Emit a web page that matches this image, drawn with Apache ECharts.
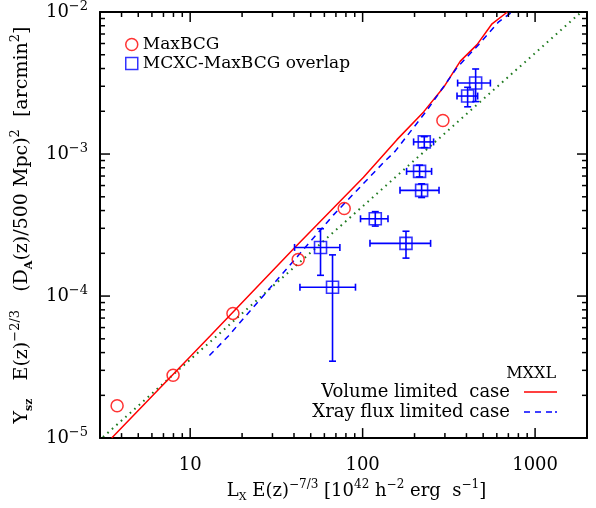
<!DOCTYPE html>
<html>
<head>
<meta charset="utf-8">
<script src="https://cdn.jsdelivr.net/npm/echarts@6/dist/echarts.min.js"></script>
<style>html,body{margin:0;padding:0;background:#fff}#c{width:596px;height:508px}</style>
</head>
<body>
<div id="c"></div>
<script>
// ---- data ----
const xMajor = [10, 100, 1000];
const xMinor = [3, 4, 5, 6, 7, 8, 9, 20, 30, 40, 50, 60, 70, 80, 90, 200, 300, 400, 500, 600, 700, 800, 900];
const yMajor = [1e-5, 1e-4, 1e-3, 1e-2];
const yMinor = [2e-5, 3e-5, 4e-5, 5e-5, 6e-5, 7e-5, 8e-5, 9e-5, 2e-4, 3e-4, 4e-4, 5e-4, 6e-4, 7e-4, 8e-4, 9e-4, 2e-3, 3e-3, 4e-3, 5e-3, 6e-3, 7e-3, 8e-3, 9e-3];

const maxbcgLx = [3.77, 7.96, 17.7, 42.3, 78.2, 292];
const maxbcgY = [1.69e-5, 2.77e-5, 7.55e-5, 1.81e-4, 4.14e-4, 1.72e-3];

const mcxcLx = [57.0, 66.9, 118.4, 178.4, 227.8, 213.9, 219.8, 452.2, 406.3];
const mcxcLxLo = [40.3, 43.3, 97.2, 110.3, 197.5, 179.8, 164.7, 355.5, 352.6];
const mcxcLxHi = [73.8, 90.9, 140.3, 247.8, 257.9, 251.1, 277.3, 550.5, 464.5];
const mcxcY = [2.20e-4, 1.155e-4, 3.50e-4, 2.35e-4, 1.217e-3, 7.55e-4, 5.55e-4, 3.16e-3, 2.56e-3];
const mcxcYLo = [1.40e-4, 3.48e-5, 3.11e-4, 1.85e-4, 1.11e-3, 6.90e-4, 4.94e-4, 2.34e-3, 2.15e-3];
const mcxcYHi = [2.98e-4, 1.95e-4, 3.93e-4, 2.86e-4, 1.325e-3, 8.35e-4, 6.17e-4, 3.97e-3, 2.95e-3];

const volLx = [3.508, 13.05, 40.3, 101.2, 158.2, 225.7, 294.9, 368.6, 460.8, 563.0, 690.8];
const volY = [1.0e-5, 5.24e-5, 2.19e-4, 6.86e-4, 1.263e-3, 1.98e-3, 2.95e-3, 4.51e-3, 5.89e-3, 8.26e-3, 1.0e-2];

const xrayLx = [12.93, 16.66, 67.8, 132.2, 154.6, 236.2, 352.6, 470.7, 615, 735.4];
const xrayY = [3.81e-5, 5.24e-5, 3.73e-4, 8.71e-4, 1.048e-3, 2.035e-3, 4.06e-3, 5.89e-3, 8.53e-3, 1.0e-2];

const fitLx = [3.12, 1807];
const fitY = [1.016e-5, 9.73e-3];

// ---- chart ----
const FONT = 'DejaVu Serif';
const X_MIN = 3, X_MAX = 2000, Y_MIN = 1e-5, Y_MAX = 1e-2;
const X_MID = 100, Y_MID = 1e-4;
const MAJOR_LEN = 10, MINOR_LEN = 5, TICK_W = 1.5;
const zip = (a, b) => a.map((v, i) => [v, b[i]]);

const chart = echarts.init(document.getElementById('c'), null, {renderer: 'canvas'});

const lineStyleAx = {color: '#000', width: 2};

const xMain = {
  type: 'log', logBase: 10, min: X_MIN, max: X_MAX, position: 'bottom',
  axisLine: {show: true, onZero: false, lineStyle: lineStyleAx},
  axisTick: {show: false}, splitLine: {show: false}, minorTick: {show: false},
  axisLabel: {
    show: true, customValues: xMajor, margin: 18,
    fontFamily: FONT, fontSize: 18, color: '#000',
    formatter: v => String(Math.round(v))
  },
  name: '{t|L}{sub|X}{t| E(z)}{sup|−7/3}{t| [10}{sup|42}{t| h}{sup|−2}{t| erg  s}{sup|−1}{t|]}',
  nameLocation: 'middle', nameGap: 36,
  nameTextStyle: {
    color: '#000', fontFamily: FONT, padding: [0, 0, 0, 26],
    rich: {
      t: {fontFamily: FONT, fontSize: 18, lineHeight: 24, color: '#000'},
      sup: {fontFamily: FONT, fontSize: 12, lineHeight: 12, verticalAlign: 'top', color: '#000'},
      sub: {fontFamily: FONT, fontSize: 11, lineHeight: 8, verticalAlign: 'bottom', color: '#000'}
    }
  }
};
const xTop = {
  type: 'log', logBase: 10, min: X_MIN, max: X_MAX, position: 'top',
  axisLine: {show: true, onZero: false, lineStyle: lineStyleAx},
  axisTick: {show: false}, axisLabel: {show: false}, splitLine: {show: false}
};

const yMain = {
  type: 'log', logBase: 10, min: Y_MIN, max: Y_MAX, position: 'left',
  axisLine: {show: true, onZero: false, lineStyle: lineStyleAx},
  axisTick: {show: false}, splitLine: {show: false}, minorTick: {show: false},
  axisLabel: {
    show: true, customValues: yMajor, margin: 12, color: '#000',
    formatter: v => '{b|10}{e|−' + Math.round(-Math.log10(v)) + '}',
    rich: {
      b: {fontFamily: FONT, fontSize: 18, lineHeight: 24, color: '#000'},
      e: {fontFamily: FONT, fontSize: 13, lineHeight: 10, verticalAlign: 'top', color: '#000'}
    }
  },
  name: '{t|Y}{sub|sz}{t|   E(z)}{sup|−2/3}{t|   (D}{sub|A}{t|(z)/500 Mpc)}{sup|2}{t|  [arcmin}{sup|2}{t|]}',
  nameLocation: 'middle', nameRotate: 90, nameGap: 51,
  nameTextStyle: {
    color: '#000', fontFamily: FONT,
    rich: {
      t: {fontFamily: FONT, fontSize: 19, lineHeight: 26, color: '#000'},
      sup: {fontFamily: FONT, fontSize: 13, lineHeight: 12, verticalAlign: 'top', color: '#000'},
      sub: {fontFamily: FONT, fontSize: 11, fontWeight: 'bold', lineHeight: 8, verticalAlign: 'bottom', color: '#000'}
    }
  }
};
const yRight = {
  type: 'log', logBase: 10, min: Y_MIN, max: Y_MAX, position: 'right',
  axisLine: {show: true, onZero: false, lineStyle: lineStyleAx},
  axisTick: {show: false}, axisLabel: {show: false}, splitLine: {show: false}
};

const errData = mcxcLx.map((v, i) => [v, mcxcY[i], mcxcLxLo[i], mcxcLxHi[i], mcxcYLo[i], mcxcYHi[i]]);

// tick marks: tick value placed through the axis scale (interior anchor),
// drawn inward from the grid frame; the frame comes from the coordinate system rect
const tickData = xMajor.map(v => [v, Y_MID, MAJOR_LEN, 0, 0, 0])
  .concat(xMinor.map(v => [v, Y_MID, MINOR_LEN, 0, 0, 0]))
  .concat(yMajor.map(v => [X_MID, v, MAJOR_LEN, 1, 0, 0]))
  .concat(yMinor.map(v => [X_MID, v, MINOR_LEN, 1, 0, 0]));

const option = {
  animation: false,
  backgroundColor: '#fff',
  grid: {left: 100, right: 9, top: 10, bottom: 64, containLabel: false},
  title: {
    text: 'MXXL', right: 35, top: 361,
    textStyle: {fontFamily: FONT, fontSize: 16, fontWeight: 'normal', color: '#000'}
  },
  legend: [
    {
      orient: 'vertical', left: 120, top: 30, itemGap: 0, itemWidth: 12, itemHeight: 12,
      selectedMode: false,
      textStyle: {fontFamily: FONT, fontSize: 17, color: '#000', lineHeight: 19},
      data: [
        {name: 'MaxBCG', icon: 'circle', itemStyle: {color: 'rgba(0,0,0,0)', borderColor: '#ff0000', borderWidth: 1.5}},
        {name: 'MCXC-MaxBCG overlap', icon: 'rect', itemStyle: {color: 'rgba(0,0,0,0)', borderColor: '#0000ff', borderWidth: 1.5}}
      ]
    },
    {
      orient: 'vertical', right: 34, top: 377, align: 'right', itemWidth: 33, itemHeight: 1.5,
      selectedMode: false,
      textStyle: {fontFamily: FONT, fontSize: 18, color: '#000', lineHeight: 20, padding: [0, 9, 0, 0]},
      data: [{name: 'Volume limited  case', icon: 'path://M0,0h33v1.5h-33z', itemStyle: {color: '#ff0000', borderWidth: 0}}]
    },
    {
      orient: 'vertical', right: 34, top: 397, align: 'right', itemWidth: 33, itemHeight: 1.5,
      selectedMode: false,
      textStyle: {fontFamily: FONT, fontSize: 18, color: '#000', lineHeight: 20, padding: [0, 9, 0, 0]},
      data: [{name: 'Xray flux limited case', icon: 'path://M0,0h6v1.5h-6z M11,0h6v1.5h-6z M22,0h6v1.5h-6z M31,0h2v1.5h-2z', itemStyle: {color: '#0000ff', borderWidth: 0}}]
    }
  ],
  xAxis: [xMain, xTop],
  yAxis: [yMain, yRight],
  series: [
    {
      name: 'Fit', type: 'line', data: zip(fitLx, fitY), symbol: 'none', clip: true,
      lineStyle: {color: '#1f7a1f', width: 2, type: [1.6, 4.4]}, z: 2
    },
    {
      name: 'Volume limited  case', type: 'line', data: zip(volLx, volY), symbol: 'none', clip: true,
      lineStyle: {color: '#ff0000', width: 1.5, type: 'solid'}, itemStyle: {color: '#ff0000'}, z: 3
    },
    {
      name: 'Xray flux limited case', type: 'line', data: zip(xrayLx, xrayY), symbol: 'none', clip: true,
      lineStyle: {color: '#0000ff', width: 1.5, type: [6, 5]}, itemStyle: {color: '#0000ff'}, z: 3
    },
    {
      name: 'errbars', type: 'custom', data: errData, clip: true, z: 4,
      encode: {x: 0, y: 1},
      renderItem: function (params, api) {
        const x = api.value(0), y = api.value(1);
        const c = api.coord([x, y]);
        const l = api.coord([api.value(2), y]);
        const r = api.coord([api.value(3), y]);
        const b = api.coord([x, api.value(4)]);
        const t = api.coord([x, api.value(5)]);
        const cap = 3.5;
        const st = {stroke: '#0000ff', lineWidth: 1.6};
        const mk = (x1, y1, x2, y2) => ({type: 'line', shape: {x1, y1, x2, y2}, style: st});
        return {type: 'group', children: [
          mk(l[0], c[1], r[0], c[1]),
          mk(c[0], b[1], c[0], t[1]),
          mk(l[0], c[1] - cap, l[0], c[1] + cap),
          mk(r[0], c[1] - cap, r[0], c[1] + cap),
          mk(c[0] - cap, b[1], c[0] + cap, b[1]),
          mk(c[0] - cap, t[1], c[0] + cap, t[1])
        ]};
      }
    },
    {
      name: 'MCXC-MaxBCG overlap', type: 'scatter', data: zip(mcxcLx, mcxcY), symbol: 'rect', symbolSize: 12,
      itemStyle: {color: 'rgba(0,0,0,0)', borderColor: '#0000ff', borderWidth: 1.6}, z: 5
    },
    {
      name: 'MaxBCG', type: 'scatter', data: zip(maxbcgLx, maxbcgY), symbol: 'circle', symbolSize: 12,
      itemStyle: {color: 'rgba(0,0,0,0)', borderColor: '#ff0000', borderWidth: 1.5}, z: 5
    },
    {
      name: 'frameTicks', type: 'custom', data: tickData, clip: true, z: 4,
      encode: {x: 0, y: 1},
      renderItem: function (params, api) {
        const cs = params.coordSys;
        const len = api.value(2);
        const kind = api.value(3);
        const p = api.coord([api.value(0), api.value(1)]);
        const st = {stroke: '#000000', lineWidth: TICK_W};
        const mk = (x1, y1, x2, y2) => ({type: 'line', shape: {x1, y1, x2, y2}, style: st});
        const top = cs.y, bottom = cs.y + cs.height, left = cs.x, right = cs.x + cs.width;
        if (kind < 0.5) {
          return {type: 'group', children: [
            mk(p[0], bottom, p[0], bottom - len),
            mk(p[0], top, p[0], top + len)
          ]};
        }
        return {type: 'group', children: [
          mk(left, p[1], left + len, p[1]),
          mk(right, p[1], right - len, p[1])
        ]};
      }
    }
  ]
};
chart.setOption(option);
</script>
</body>
</html>
